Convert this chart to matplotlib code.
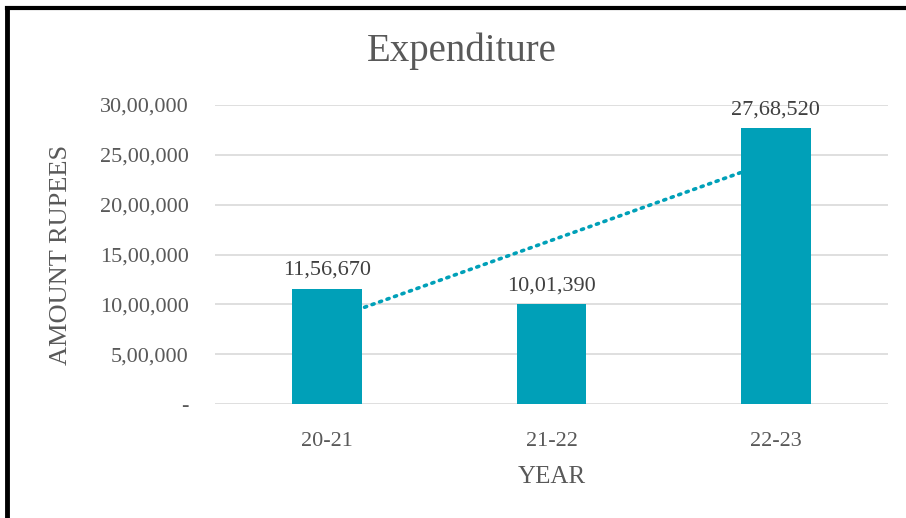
import matplotlib
matplotlib.use("Agg")
import matplotlib.pyplot as plt
import numpy as np

categories = ["20-21", "21-22", "22-23"]
values = [1156670, 1001390, 2768520]
yticks = [0, 500000, 1000000, 1500000, 2000000, 2500000, 3000000]
ytick_labels = ["-", "5,00,000", "10,00,000", "15,00,000", "20,00,000", "25,00,000", "30,00,000"]
value_labels = ["11,56,670", "10,01,390", "27,68,520"]

teal = "#00A0B8"
txt = "#595959"
grid = "#D9D9D9"
plt.rcParams['font.family'] = ['Liberation Serif', 'DejaVu Serif']

fig = plt.figure(figsize=(9.06, 5.18), dpi=100)
ax = fig.add_axes([215/906, 1-404/518, (888-215)/906, (404-105)/518])

x = np.arange(len(categories))
bars = ax.bar(x, values, width=0.31, color=teal, zorder=3)

# linear trendline
coef = np.polyfit(x, values, 1)
xt = np.array([x[0], x[-1]])
ax.plot(xt, np.polyval(coef, xt), linestyle=(0, (0.6, 1.6)), color=teal, lw=2.6,
        dash_capstyle='round', zorder=2)

for xi, v, lab in zip(x, values, value_labels):
    ax.text(xi, v + 90000, lab, ha='center', va='bottom', fontsize=16, color="#404040")

ax.set_xlim(-0.5, 2.5)
ax.set_ylim(0, 3000000)
ax.set_yticks(yticks)
ax.set_yticklabels(ytick_labels)
ax.set_xticks(x)
ax.set_xticklabels(categories)
ax.tick_params(axis='both', length=0, labelsize=16, colors=txt)
ax.tick_params(axis='y', pad=19)
ax.tick_params(axis='x', pad=20)
ax.grid(axis='y', color=grid, lw=1.2, zorder=0)
ax.set_axisbelow(True)
for s in ax.spines.values():
    s.set_visible(False)

ax.set_ylabel("AMOUNT RUPEES", fontsize=19, color=txt, labelpad=20)
ax.set_xlabel("YEAR", fontsize=18, color=txt, labelpad=11)
fig.text(462/906, 1-51/518, "Expenditure", ha='center', va='center', fontsize=28, color=txt)

# partial border (top and left)
fig.add_artist(plt.Line2D([7/906, 7/906], [0, 1-7.5/518], color='black', lw=3.5, transform=fig.transFigure))
fig.add_artist(plt.Line2D([7/906, 1], [1-7.5/518, 1-7.5/518], color='black', lw=3, transform=fig.transFigure))

fig.savefig("out.png", dpi=100)
